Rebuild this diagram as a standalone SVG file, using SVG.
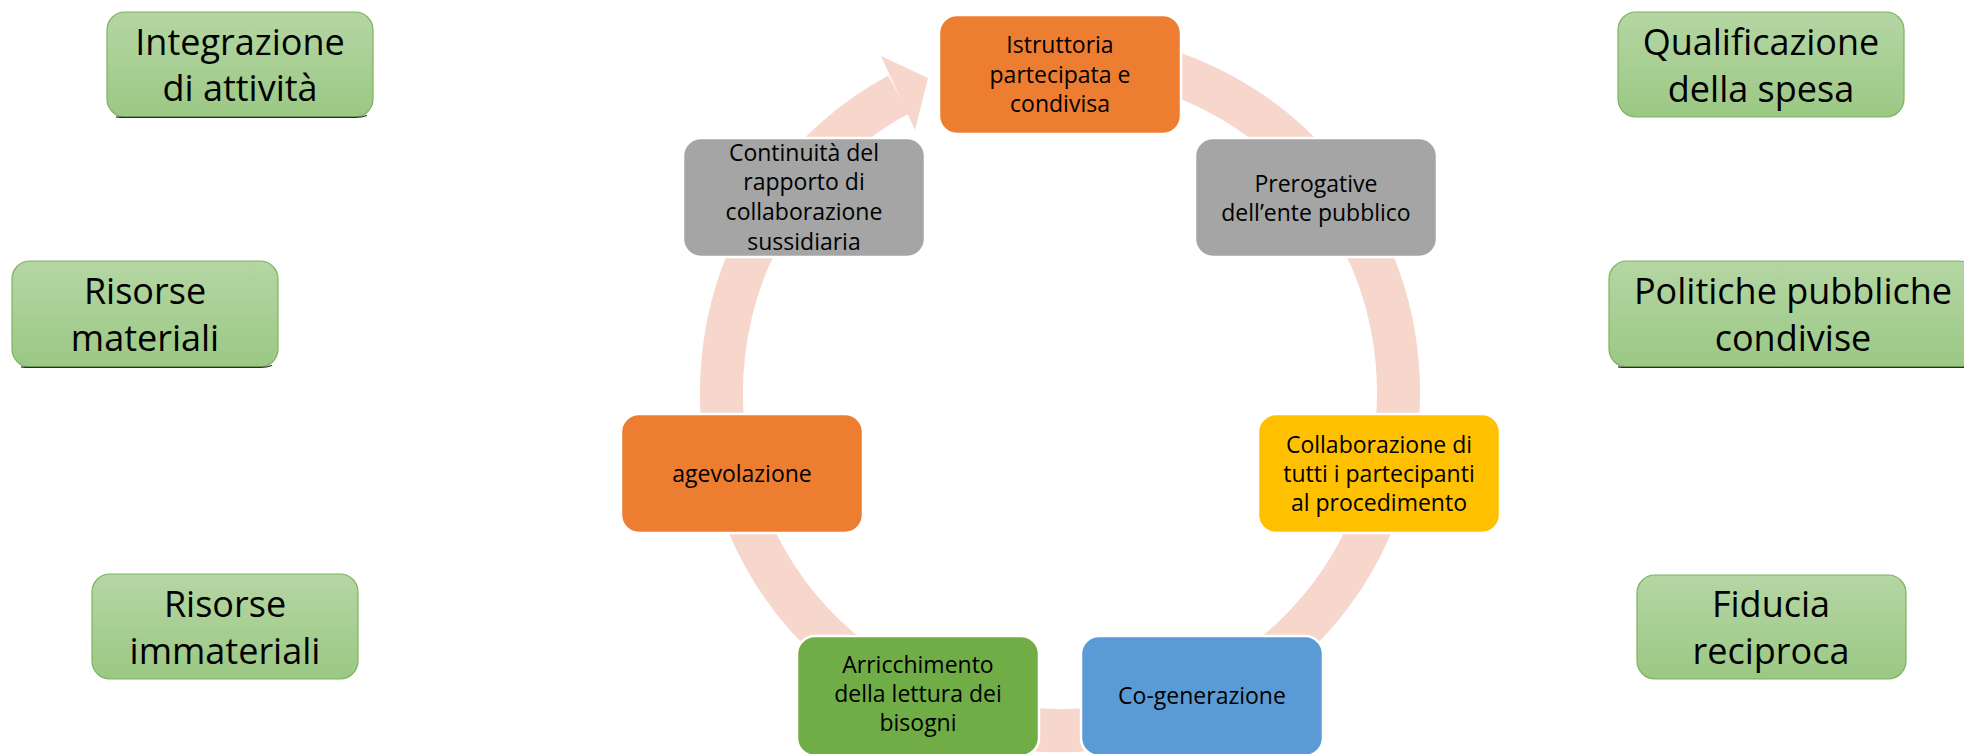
<svg xmlns="http://www.w3.org/2000/svg" width="1964" height="754" viewBox="0 0 1964 754">
  <defs>
    <linearGradient id="gGreen" x1="0" y1="0" x2="0" y2="1">
      <stop offset="0" stop-color="#B5D6A4"/>
      <stop offset="1" stop-color="#9BC884"/>
    </linearGradient>
    <style>
      .side rect { fill: url(#gGreen); stroke: #7CB35E; stroke-width: 1.2; }
      .side text { font-family: 'Open Sans', 'Liberation Sans', sans-serif; font-size: 36px; fill: #000; text-anchor: middle; }
      .shadow { stroke: #2a2a2a; stroke-width: 1.2; fill: none; }
      .node rect { stroke: #ffffff; stroke-width: 2.5; }
      .node text { font-family: 'Open Sans', 'Liberation Sans', sans-serif; font-size: 23px; fill: #000; text-anchor: middle; }
      .orange { fill: #ED7D31; }
      .gray { fill: #A5A5A5; }
      .gold { fill: #FFC000; }
      .blue { fill: #5B9BD5; }
      .green { fill: #70AD47; }
      .ring { fill: none; stroke: #F7D6CC; stroke-width: 43; }
      .head { fill: #F7D6CC; }
    </style>
  </defs>

  <rect x="0" y="0" width="1964" height="754" fill="#ffffff"/>

  <!-- connectors: cycle ring with arrowhead -->
  <g id="connectors">
    <path class="ring" d="M 1060 53.5 A 338.5 338.5 0 1 1 898.5 94.5"/>
    <polygon class="head" points="881,56 928,78 915,130"/>
  </g>

  <!-- side boxes -->
  <g id="integrazione" class="side">
    <rect x="107" y="12" width="266" height="105" rx="18"/>
    <path class="shadow" d="M 116 116.8 Q 120 117.4 125 117.4 L 355 117.4 Q 362 117.4 367 115.5"/>
    <text x="240" y="55">Integrazione</text>
    <text x="240" y="101">di attività</text>
  </g>
  <g id="qualificazione" class="side">
    <rect x="1618" y="12" width="286" height="105" rx="18"/>
    <text x="1761" y="55">Qualificazione</text>
    <text x="1761" y="102">della spesa</text>
  </g>
  <g id="risorse-materiali" class="side">
    <rect x="12" y="261" width="266" height="106" rx="18"/>
    <path class="shadow" d="M 21 366.8 Q 25 367.4 30 367.4 L 260 367.4 Q 267 367.4 272 365.5"/>
    <text x="145" y="304">Risorse</text>
    <text x="145" y="351">materiali</text>
  </g>
  <g id="politiche" class="side">
    <rect x="1609" y="261" width="368" height="106" rx="18"/>
    <path class="shadow" d="M 1618 366.8 Q 1622 367.4 1627 367.4 L 1964 367.4"/>
    <text x="1793" y="304">Politiche pubbliche</text>
    <text x="1793" y="351">condivise</text>
  </g>
  <g id="risorse-immateriali" class="side">
    <rect x="92" y="574" width="266" height="105" rx="18"/>
    <text x="225" y="617">Risorse</text>
    <text x="225" y="664">immateriali</text>
  </g>
  <g id="fiducia" class="side">
    <rect x="1637" y="575" width="269" height="104" rx="18"/>
    <text x="1771" y="617">Fiducia</text>
    <text x="1771" y="664">reciproca</text>
  </g>

  <!-- cycle nodes -->
  <g id="istruttoria" class="node">
    <rect class="orange" x="939" y="15" width="242" height="119" rx="18"/>
    <text x="1060" y="53">Istruttoria</text>
    <text x="1060" y="83">partecipata e</text>
    <text x="1060" y="112">condivisa</text>
  </g>
  <g id="prerogative" class="node">
    <rect class="gray" x="1195" y="138" width="242" height="119" rx="18"/>
    <text x="1316" y="192">Prerogative</text>
    <text x="1316" y="221">dell’ente pubblico</text>
  </g>
  <g id="collaborazione" class="node">
    <rect class="gold" x="1258" y="414" width="242" height="119" rx="18"/>
    <text x="1379" y="453">Collaborazione di</text>
    <text x="1379" y="482">tutti i partecipanti</text>
    <text x="1379" y="511">al procedimento</text>
  </g>
  <g id="cogenerazione" class="node">
    <rect class="blue" x="1081" y="636" width="242" height="120" rx="18"/>
    <text x="1202" y="704">Co-generazione</text>
  </g>
  <g id="arricchimento" class="node">
    <rect class="green" x="797" y="636" width="242" height="120" rx="18"/>
    <text x="918" y="673">Arricchimento</text>
    <text x="918" y="702">della lettura dei</text>
    <text x="918" y="731">bisogni</text>
  </g>
  <g id="agevolazione" class="node">
    <rect class="orange" x="621" y="414" width="242" height="119" rx="18"/>
    <text x="742" y="482">agevolazione</text>
  </g>
  <g id="continuita" class="node">
    <rect class="gray" x="683" y="138" width="242" height="119" rx="18"/>
    <text x="804" y="161">Continuità del</text>
    <text x="804" y="190">rapporto di</text>
    <text x="804" y="220">collaborazione</text>
    <text x="804" y="250">sussidiaria</text>
  </g>
</svg>
